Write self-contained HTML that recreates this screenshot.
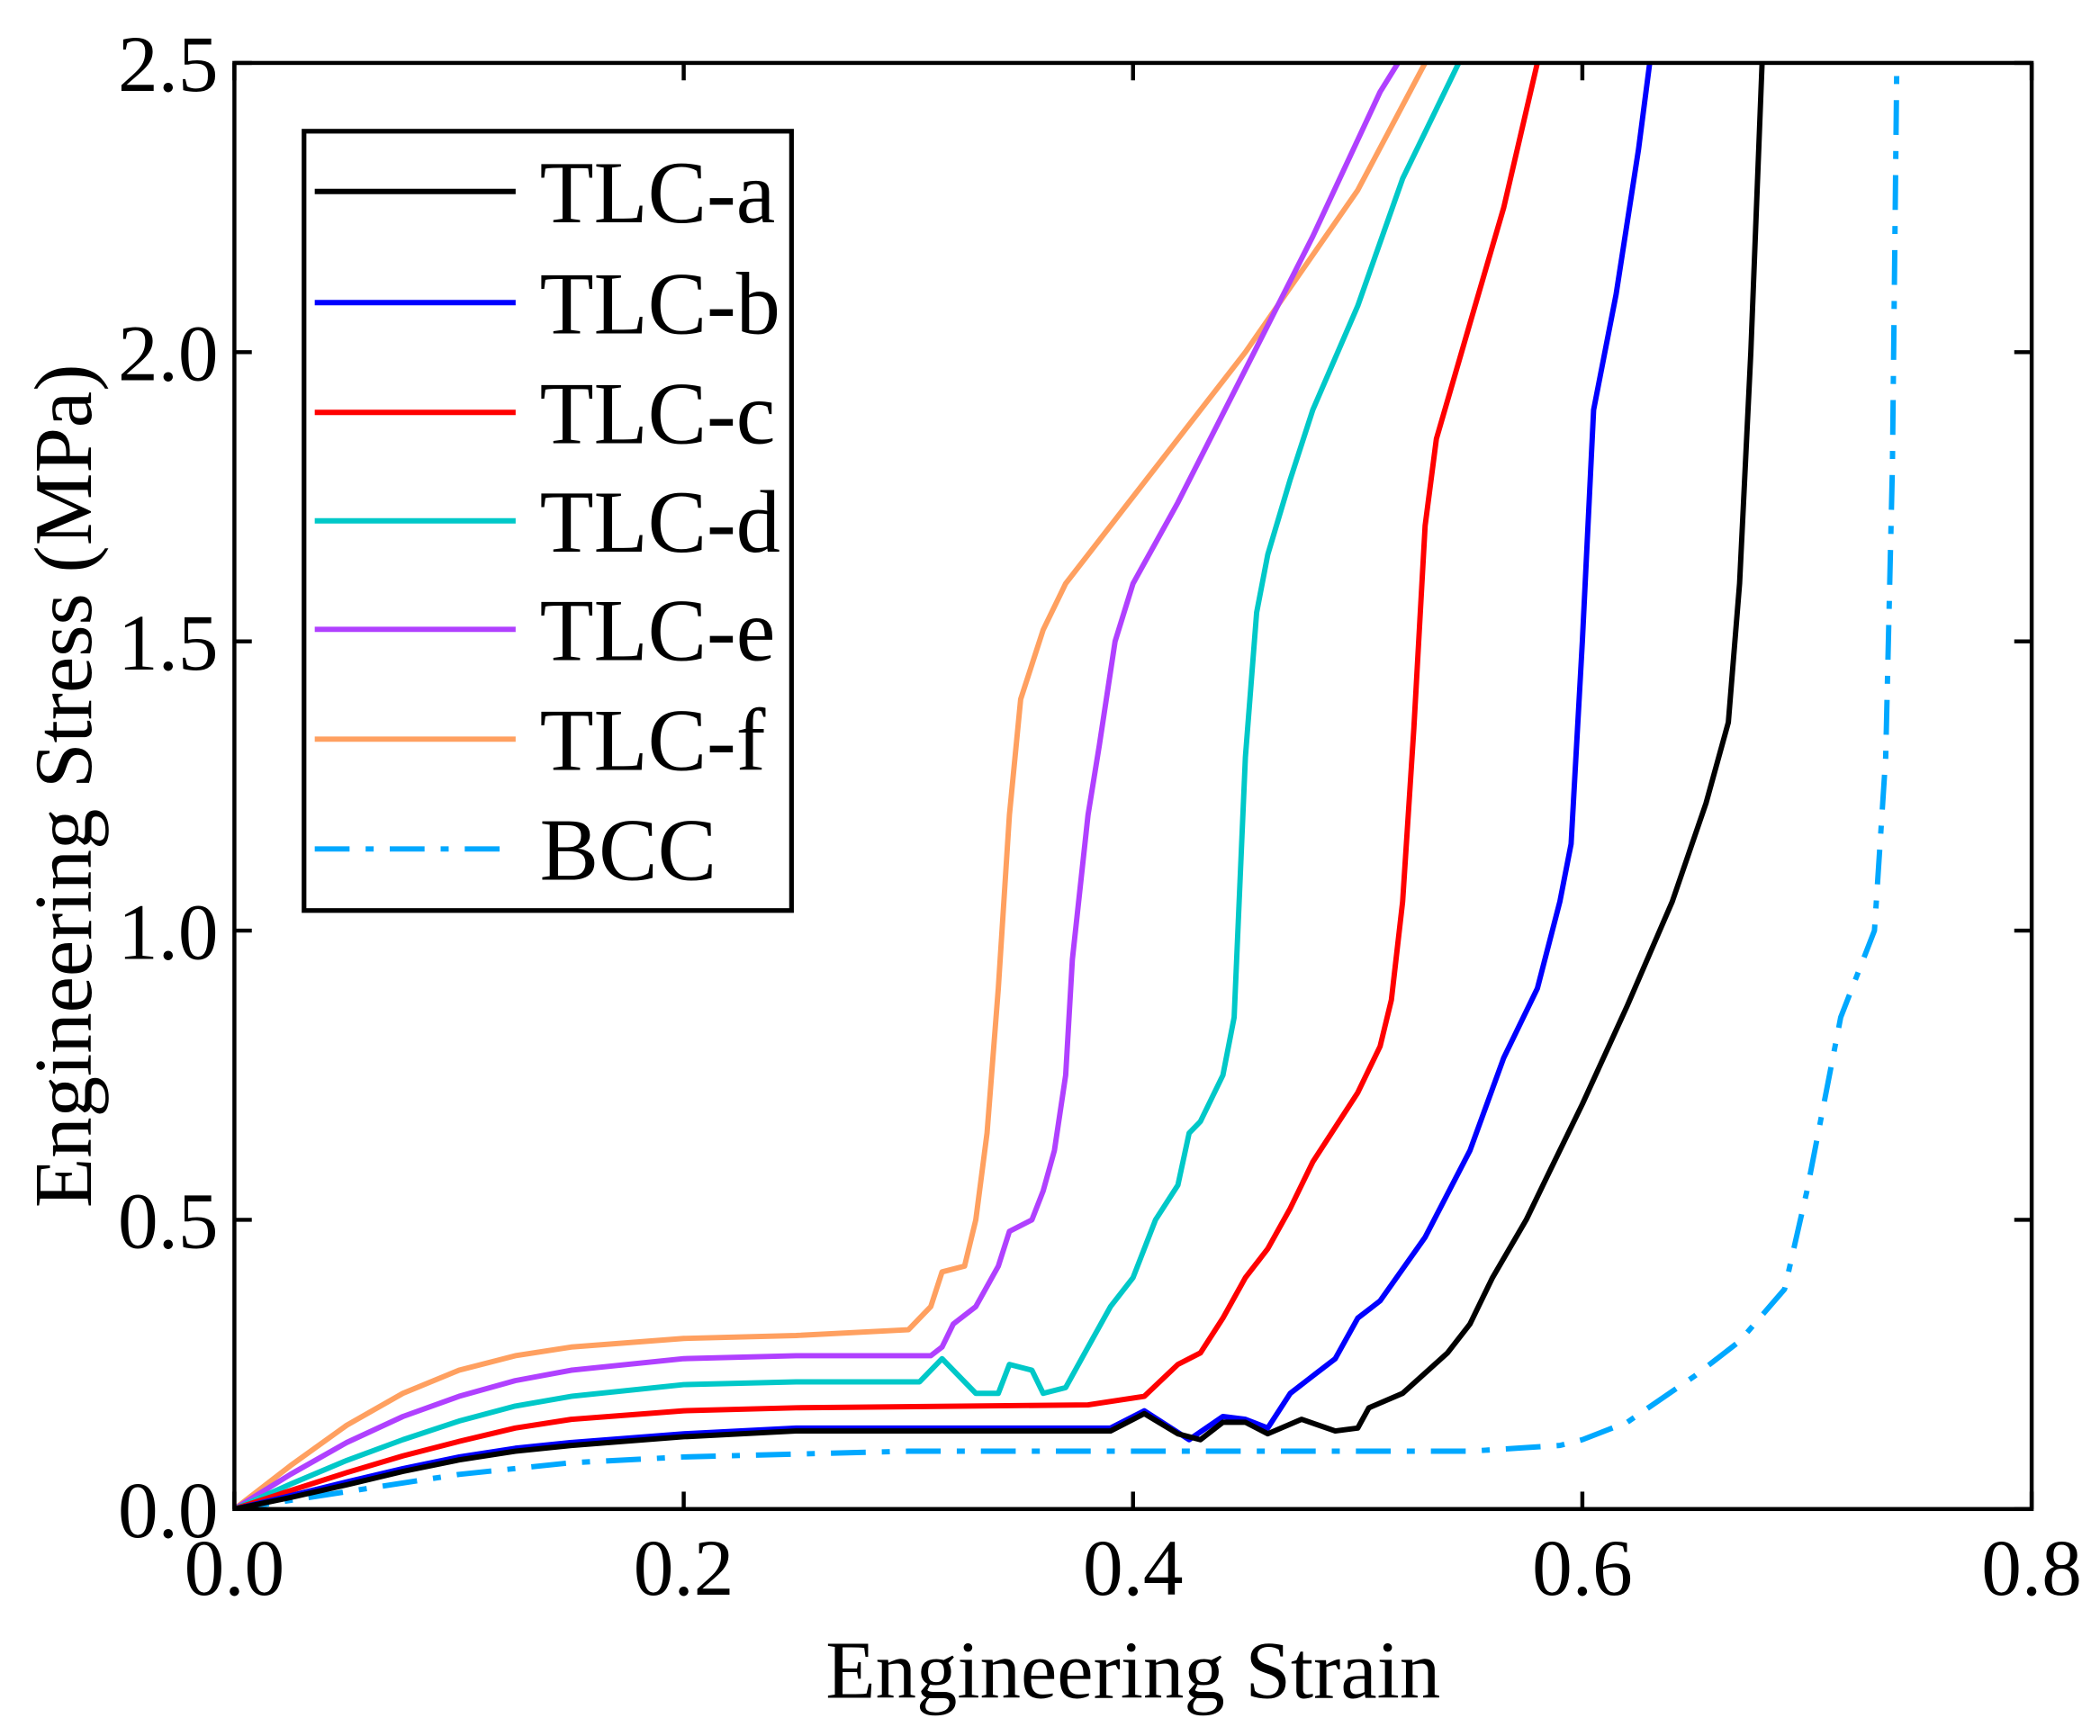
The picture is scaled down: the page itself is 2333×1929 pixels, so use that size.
<!DOCTYPE html>
<html><head><meta charset="utf-8"><style>
html,body{margin:0;padding:0;background:#fff;}
svg{display:block;}
text{font-family:"Liberation Serif",serif;fill:#000;}
</style></head><body>
<svg id="chart" width="2333" height="1929" viewBox="0 0 1568 1296.5" xmlns="http://www.w3.org/2000/svg">
<g id="series"></g>
<g id="axes"></g>
<g id="legend"></g>
</svg>
<script>
const xTicks = [0, 0.2, 0.4, 0.6, 0.8];
const xTickLabels = ["0.0", "0.2", "0.4", "0.6", "0.8"];
const yTicks = [0, 0.5, 1.0, 1.5, 2.0, 2.5];
const yTickLabels = ["0.0", "0.5", "1.0", "1.5", "2.0", "2.5"];
const seriesNames = ["TLC-a", "TLC-b", "TLC-c", "TLC-d", "TLC-e", "TLC-f", "BCC"];
const seriesColors = ["#000000", "#0000ff", "#ff0000", "#00c8c8", "#b040ff", "#ffa060", "#00a8ff"];
const strainA = [0,0.025,0.05,0.075,0.1,0.125,0.15,0.2,0.25,0.3,0.39,0.405,0.42,0.43,0.44,0.45,0.46,0.475,0.49,0.5,0.505,0.52,0.54,0.55,0.56,0.575,0.585,0.6,0.62,0.64,0.655,0.665,0.67,0.675,0.68];
const stressA = [0,0.02,0.042,0.065,0.085,0.1,0.11,0.125,0.135,0.135,0.135,0.165,0.13,0.12,0.15,0.15,0.13,0.155,0.135,0.14,0.175,0.2,0.27,0.32,0.4,0.5,0.58,0.7,0.87,1.05,1.22,1.36,1.6,2.0,2.5];
const strainB = [0,0.025,0.05,0.075,0.1,0.125,0.15,0.2,0.25,0.39,0.405,0.425,0.44,0.45,0.46,0.47,0.48,0.49,0.5,0.51,0.53,0.55,0.565,0.58,0.59,0.595,0.6,0.605,0.615,0.625,0.63];
const stressB = [0,0.023,0.047,0.07,0.09,0.105,0.115,0.13,0.14,0.14,0.17,0.12,0.16,0.155,0.14,0.2,0.23,0.26,0.33,0.36,0.47,0.62,0.78,0.9,1.05,1.15,1.5,1.9,2.1,2.35,2.5];
const strainC = [0,0.025,0.05,0.075,0.1,0.125,0.15,0.2,0.25,0.38,0.405,0.42,0.43,0.44,0.45,0.46,0.47,0.48,0.49,0.5,0.51,0.515,0.52,0.525,0.53,0.535,0.55,0.565,0.58];
const stressC = [0,0.032,0.063,0.092,0.117,0.14,0.155,0.17,0.175,0.18,0.195,0.25,0.27,0.33,0.4,0.45,0.52,0.6,0.66,0.72,0.8,0.88,1.05,1.35,1.7,1.85,2.05,2.25,2.5];
const strainD = [0,0.025,0.05,0.075,0.1,0.125,0.15,0.2,0.25,0.305,0.315,0.33,0.34,0.345,0.355,0.36,0.37,0.38,0.39,0.4,0.41,0.42,0.425,0.43,0.44,0.445,0.45,0.455,0.46,0.47,0.48,0.5,0.52,0.545];
const stressD = [0,0.043,0.084,0.12,0.152,0.178,0.195,0.215,0.22,0.22,0.26,0.2,0.2,0.25,0.24,0.2,0.21,0.28,0.35,0.4,0.5,0.56,0.65,0.67,0.75,0.85,1.3,1.55,1.65,1.78,1.9,2.08,2.3,2.5];
const strainE = [0,0.025,0.05,0.075,0.1,0.125,0.15,0.2,0.25,0.31,0.315,0.32,0.33,0.34,0.345,0.355,0.36,0.365,0.37,0.373,0.38,0.385,0.392,0.4,0.42,0.45,0.48,0.51,0.518];
const stressE = [0,0.06,0.115,0.16,0.195,0.222,0.24,0.26,0.265,0.265,0.28,0.32,0.35,0.42,0.48,0.5,0.55,0.62,0.75,0.95,1.2,1.32,1.5,1.6,1.74,1.97,2.2,2.45,2.5];
const strainF = [0,0.025,0.05,0.075,0.1,0.125,0.15,0.2,0.25,0.3,0.31,0.315,0.325,0.33,0.335,0.34,0.345,0.35,0.36,0.37,0.4,0.45,0.5,0.53];
const stressF = [0,0.075,0.145,0.2,0.24,0.265,0.28,0.295,0.3,0.31,0.35,0.41,0.42,0.5,0.65,0.9,1.2,1.4,1.52,1.6,1.75,2.0,2.28,2.5];
const strainBCC = [0,0.05,0.1,0.15,0.2,0.3,0.4,0.5,0.55,0.59,0.6,0.62,0.65,0.67,0.69,0.7,0.715,0.73,0.735,0.738,0.74];
const stressBCC = [0,0.03,0.06,0.08,0.09,0.1,0.1,0.1,0.1,0.11,0.12,0.15,0.23,0.29,0.38,0.55,0.85,1.0,1.3,1.8,2.5];

const X0=175, X1=1517, Y0=1127, Y1=47;
const xs = v => X0 + (v/0.8)*(X1-X0);
const ys = v => Y0 - (v/2.5)*(Y0-Y1);
const NS="http://www.w3.org/2000/svg";
function mk(tag, attrs, parent){const e=document.createElementNS(NS,tag);for(const k in attrs)e.setAttribute(k,attrs[k]);parent.appendChild(e);return e;}

const sg=document.getElementById('series');
const allX=[strainA,strainB,strainC,strainD,strainE,strainF,strainBCC];
const allY=[stressA,stressB,stressC,stressD,stressE,stressF,stressBCC];
const clip=mk('clipPath',{id:'pc'},sg); mk('rect',{x:X0,y:Y1,width:X1-X0,height:Y0-Y1},clip);
for(let s=6;s>=0;s--){
  const d=allX[s].map((x,i)=>(i?'L':'M')+xs(x).toFixed(1)+' '+ys(allY[s][i]).toFixed(1)).join(' ');
  const p=mk('path',{d:d,fill:'none',stroke:seriesColors[s],'stroke-width':4,'stroke-linejoin':'round','clip-path':'url(#pc)'},sg);
  if(s===6)p.setAttribute('stroke-dasharray','26 12 6 12');
  
  
}

const ag=document.getElementById('axes');
const frame=mk('rect',{x:X0,y:Y1,width:X1-X0,height:Y0-Y1,fill:'none',stroke:'#000','stroke-width':3},ag);


xTicks.forEach((t,i)=>{
  const x=xs(t);
  mk('line',{x1:x,y1:Y0,x2:x,y2:Y0-13,stroke:'#000','stroke-width':3},ag);
  mk('line',{x1:x,y1:Y1,x2:x,y2:Y1+13,stroke:'#000','stroke-width':3},ag);
  const tx=mk('text',{x:x,y:Y0+64,'font-size':60,'text-anchor':'middle'},ag);
  tx.textContent=xTickLabels[i];
  
  
});
yTicks.forEach((t,i)=>{
  const y=ys(t);
  mk('line',{x1:X0,y1:y,x2:X0+13,y2:y,stroke:'#000','stroke-width':3},ag);
  mk('line',{x1:X1,y1:y,x2:X1-13,y2:y,stroke:'#000','stroke-width':3},ag);
  const ty=mk('text',{x:X0-12,y:y+21,'font-size':60,'text-anchor':'end'},ag);
  ty.textContent=yTickLabels[i];
  
  
});
const xt=mk('text',{x:(X0+X1)/2,y:1268,'font-size':61,'text-anchor':'middle'},ag);
xt.textContent='Engineering Strain';


const yt=mk('text',{x:0,y:0,'font-size':61,'text-anchor':'middle',transform:'translate(68,587) rotate(-90)'},ag);
yt.textContent='Engineering Stress (MPa)';



const lg=document.getElementById('legend');
const box=mk('rect',{x:227,y:98,width:364,height:582,fill:'#fff',stroke:'#000','stroke-width':3.5},lg);


const ly=[143,226,308,389,470,552,634];
seriesNames.forEach((n,i)=>{
  const g=mk('g',{},lg);
  
  
  const l=mk('line',{x1:235,y1:ly[i],x2:385,y2:ly[i],stroke:seriesColors[i],'stroke-width':4},g);
  if(i===6)l.setAttribute('stroke-dasharray','26 12 6 12');
  const t=mk('text',{x:403,y:ly[i]+23,'font-size':66},g);
  t.textContent=n;
});
</script>
</body></html>
